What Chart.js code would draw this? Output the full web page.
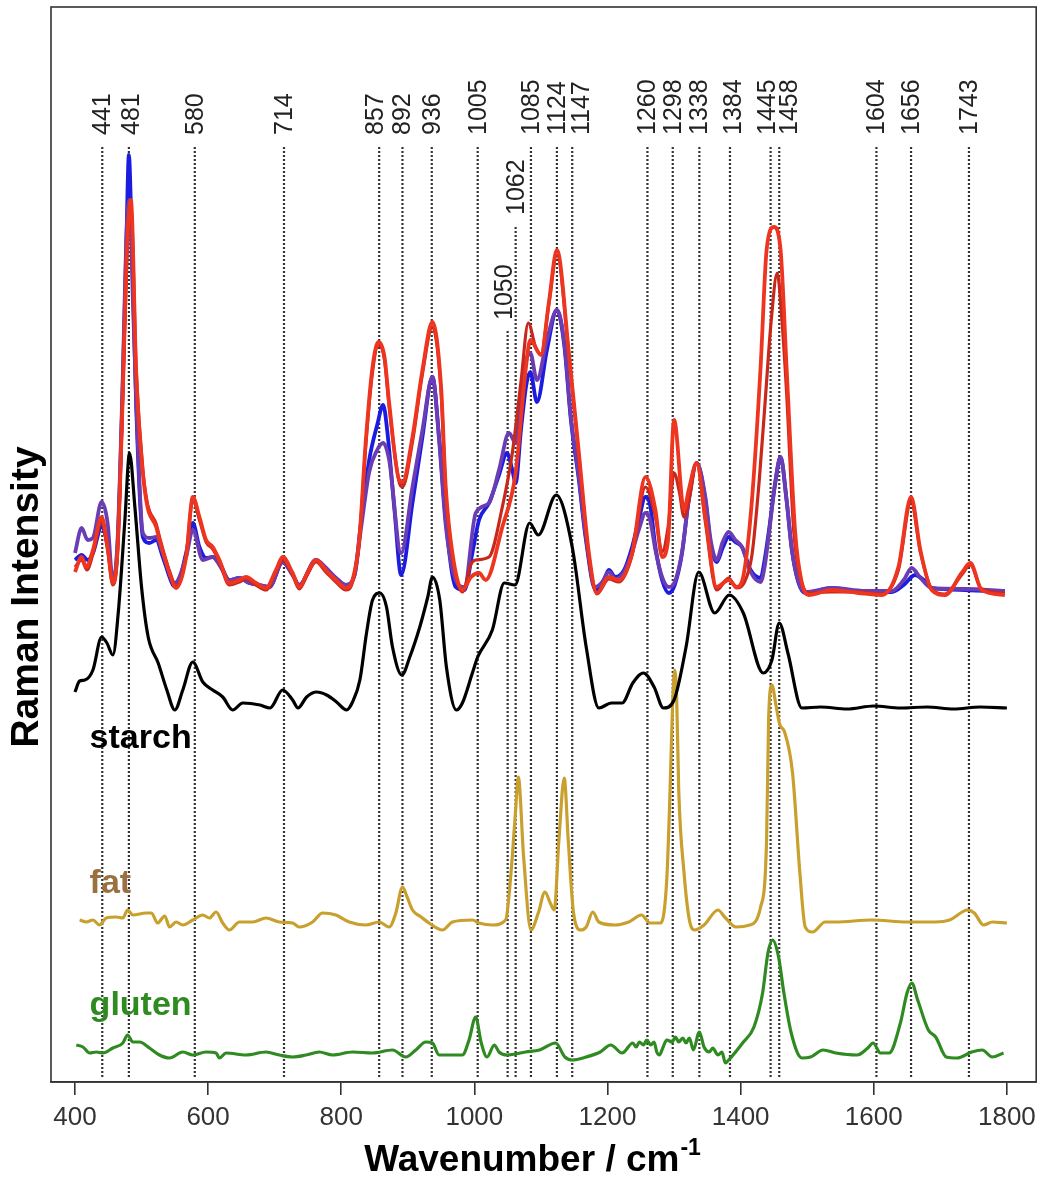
<!DOCTYPE html>
<html>
<head>
<meta charset="utf-8">
<title>Raman spectra</title>
<script src="https://cdn.jsdelivr.net/npm/chart.js@4/dist/chart.umd.min.js"></script>
<style>
  html, body { margin: 0; padding: 0; background: #fff; }
  #wrap { width: 1043px; height: 1177px; position: relative; }
</style>
</head>
<body>
<div id="wrap"><canvas id="raman"></canvas></div>
<script>
// x axis ticks and marked band positions (cm-1)
const xTicks = [400, 600, 800, 1000, 1200, 1400, 1600, 1800];
const peakWn = [441, 481, 580, 714, 857, 892, 936, 1005, 1050, 1062, 1085, 1124, 1147,
                1260, 1298, 1338, 1384, 1445, 1458, 1604, 1656, 1743];

// sample spectra (offset, arbitrary units)
const redWn  = [400,410,417,427,440,449,457,464,472,478,484,492,502,509,522,527,542,552,567,577,587,597,607,617,632,647,657,672,687,702,712,727,737,749,762,777,792,807,817,827,837,847,856,865,872,887,892,907,922,937,950,957,967,982,995,1007,1017,1042,1062,1077,1084,1100,1112,1124,1142,1157,1172,1184,1202,1217,1237,1257,1272,1282,1291,1300,1315,1322,1334,1347,1364,1382,1394,1405,1417,1430,1439,1450,1460,1469,1482,1492,1502,1537,1577,1612,1637,1656,1670,1687,1707,1732,1745,1762,1797];
const redInt = [510,525,515,532,565,535,499,532,692,832,882,709,609,575,555,542,509,494,525,585,565,542,535,522,499,502,505,499,494,512,525,509,495,509,522,512,502,494,502,542,642,715,740,725,679,602,600,645,712,760,695,595,529,492,505,509,502,555,609,712,742,727,780,832,729,629,529,489,505,502,529,605,572,525,542,662,572,592,619,565,495,502,495,509,582,715,832,855,832,715,549,499,487,492,489,487,515,585,532,492,487,509,519,492,487];

const red2Wn  = [400,410,418,427,440,449,457,464,472,478,484,492,502,509,522,527,542,552,567,577,587,597,607,617,632,647,657,672,687,702,712,727,737,749,762,777,792,807,817,827,837,847,856,865,872,887,892,907,922,937,950,957,967,982,995,1002,1022,1042,1057,1070,1081,1092,1100,1112,1124,1142,1157,1172,1184,1202,1217,1237,1257,1272,1282,1291,1300,1308,1315,1322,1334,1347,1364,1382,1394,1405,1417,1428,1437,1446,1455,1462,1469,1480,1492,1502,1537,1577,1612,1637,1656,1670,1687,1707,1732,1745,1762,1797];
const red2Int = [515,522,512,528,560,532,497,530,690,825,875,712,612,578,558,545,511,496,527,582,562,540,533,520,497,500,503,497,492,510,522,507,493,507,520,510,500,492,500,540,638,710,737,722,675,600,595,640,708,755,690,590,525,490,518,522,525,575,629,700,759,735,728,778,827,726,625,525,488,503,500,527,595,565,530,555,609,590,565,580,619,560,492,504,494,499,527,602,682,762,809,762,690,549,499,489,490,490,488,512,580,530,493,488,507,517,493,489];

const blueWn  = [400,410,419,427,440,449,457,464,472,477,481,485,492,502,512,522,532,547,552,567,577,587,597,607,617,632,647,662,677,692,712,727,737,762,777,792,807,820,830,842,854,863,869,880,890,907,922,937,947,957,972,985,997,1007,1022,1037,1049,1057,1062,1070,1078,1084,1094,1109,1124,1135,1145,1157,1167,1182,1192,1202,1212,1225,1237,1247,1257,1264,1272,1282,1292,1301,1312,1322,1334,1347,1355,1364,1373,1382,1392,1402,1415,1430,1436,1442,1452,1460,1469,1477,1487,1497,1537,1587,1627,1645,1662,1675,1687,1737,1797];
const blueInt = [522,527,522,529,555,537,502,537,702,832,927,852,675,545,539,542,525,497,495,529,559,535,524,525,519,502,504,499,497,495,520,507,497,522,514,504,497,507,562,622,657,677,652,572,507,579,645,705,645,562,495,492,529,562,579,607,629,612,599,652,697,710,680,732,772,737,662,602,545,492,497,512,505,512,535,562,585,577,535,502,489,497,529,582,619,582,537,520,534,545,540,535,512,504,522,549,599,625,582,532,499,489,494,490,490,497,507,502,494,492,490];

const purpleWn  = [400,410,419,427,440,449,457,464,472,477,482,487,492,502,512,522,532,550,567,577,592,607,617,632,647,662,677,692,712,727,737,762,777,792,807,820,830,842,854,863,872,890,907,922,937,947,957,972,985,1002,1022,1037,1052,1062,1070,1078,1084,1094,1109,1124,1135,1145,1157,1167,1182,1192,1202,1212,1225,1237,1247,1257,1264,1272,1282,1292,1301,1312,1322,1334,1347,1355,1364,1373,1382,1392,1402,1415,1430,1436,1442,1452,1460,1469,1477,1487,1497,1537,1587,1627,1645,1657,1670,1687,1737,1797];
const purpleInt = [529,554,542,544,580,559,500,542,709,842,882,782,682,549,544,545,529,499,525,552,522,525,517,502,504,499,497,495,520,507,497,522,514,504,497,507,555,610,632,639,622,529,595,652,705,642,557,502,495,569,579,612,649,639,682,722,729,702,742,772,740,665,605,548,495,500,510,503,510,530,552,569,562,532,505,495,500,530,582,619,585,542,522,540,550,542,535,510,500,515,545,600,625,582,532,500,490,494,491,491,502,514,504,494,493,491];

// reference spectra
const starchWn  = [400,407,415,427,440,448,457,465,475,482,490,500,510,525,538,550,562,577,592,607,622,637,652,678,693,712,727,735,748,763,778,793,808,817,828,838,847,858,868,877,891,903,918,930,937,948,958,973,982,997,1005,1027,1045,1061,1083,1096,1123,1147,1168,1187,1206,1222,1238,1254,1270,1284,1300,1318,1337,1361,1383,1404,1434,1447,1458,1471,1492,1520,1560,1600,1640,1680,1720,1760,1800];
const starchInt = [390,401,402,412,445,439,427,469,562,629,575,495,445,419,392,372,392,420,400,392,385,372,379,377,374,392,382,374,385,390,387,380,372,380,402,449,482,489,475,435,407,425,455,485,505,482,415,372,379,409,425,452,499,497,559,547,587,535,435,374,379,379,399,409,395,374,382,435,510,469,487,469,409,422,459,429,374,375,373,376,374,375,373,375,374];

const fatWn  = [407,417,427,437,447,462,472,479,487,507,515,524,535,542,552,562,577,592,602,612,622,632,647,667,687,707,727,737,757,772,792,812,837,857,872,882,892,899,907,920,932,952,967,997,1007,1027,1047,1055,1062,1066,1074,1085,1096,1106,1114,1120,1127,1135,1141,1149,1160,1168,1178,1187,1211,1232,1251,1264,1280,1289,1294,1298,1301,1304,1307,1315,1323,1331,1345,1366,1376,1393,1414,1430,1439,1442,1447,1453,1459,1466,1478,1489,1497,1508,1527,1543,1597,1650,1693,1714,1741,1751,1765,1778,1800];
const fatInt = [162,160,162,157,164,165,164,172,167,169,169,159,166,155,160,157,162,167,164,170,159,152,160,160,164,160,159,155,160,169,167,160,157,160,155,169,195,185,172,165,159,152,160,162,159,157,162,209,272,305,225,152,169,190,179,172,242,304,242,169,152,155,170,160,157,160,167,159,159,202,292,382,412,382,292,209,162,152,157,172,165,155,157,175,242,362,397,377,357,350,309,209,155,150,160,160,162,160,160,162,172,169,157,160,159];

const glutenWn  = [402,412,422,432,442,457,472,479,487,497,512,527,542,562,577,597,612,617,627,657,687,707,727,747,767,787,817,847,877,897,912,927,937,947,982,992,1002,1010,1019,1030,1037,1049,1077,1098,1122,1136,1147,1168,1189,1205,1222,1238,1243,1248,1254,1259,1265,1270,1274,1278,1283,1289,1297,1302,1307,1313,1318,1323,1329,1338,1345,1353,1358,1366,1372,1377,1382,1403,1420,1433,1441,1448,1457,1465,1476,1492,1505,1524,1543,1575,1591,1599,1610,1623,1640,1650,1657,1666,1682,1693,1709,1725,1747,1763,1778,1795];
const glutenInt = [37,35,29,30,29,34,39,47,40,40,34,27,24,30,27,30,29,24,29,27,30,27,25,27,30,27,30,29,32,25,32,40,39,27,27,42,65,40,25,37,30,27,30,32,39,25,22,25,30,37,29,39,35,40,37,42,37,40,30,27,34,42,40,45,40,44,39,44,32,50,35,30,34,27,30,19,22,39,55,89,129,142,125,89,49,24,25,32,29,27,34,39,29,29,59,89,99,82,52,45,25,24,30,32,25,29];

// layout constants (data units on the intensity axis, pixel nudges for crowded labels)
const Y_MAX = 1075;
const LINE_BOTTOM = 5;
const LINE_TOP = 937;
const staggerTop = { 1050: 752, 1062: 857 };
const labelNudge = { 481: 2, 857: -4, 1050: -4, 1147: 9, 1384: 3, 1445: -3, 1458: 10 };
const FONT = '"Liberation Sans", Arial, Helvetica, sans-serif';

function pts(xs, ys) { return xs.map((x, i) => ({ x: x, y: ys[i] })); }
function lineTop(w) { return staggerTop[w] || LINE_TOP; }

function spectrum(label, xs, ys, color, width, order) {
  return {
    label: label,
    data: pts(xs, ys),
    borderColor: color,
    borderWidth: width,
    pointRadius: 0,
    fill: false,
    cubicInterpolationMode: 'monotone',
    order: order
  };
}

const peakSets = peakWn.map(w => ({
  label: 'band ' + w,
  data: [{ x: w, y: LINE_BOTTOM }, { x: w, y: lineTop(w) }],
  borderColor: '#333',
  borderWidth: 2.2,
  borderDash: [2, 2],
  pointRadius: 0,
  fill: false,
  order: 20
}));

const datasets = [
  spectrum('red', redWn, redInt, '#ee3520', 3.8, 1),
  spectrum('red 2', red2Wn, red2Int, '#c8281c', 3.2, 2),
  spectrum('purple', purpleWn, purpleInt, '#6b3db5', 3.8, 3),
  spectrum('blue', blueWn, blueInt, '#1c1ce0', 3.8, 4),
  spectrum('starch', starchWn, starchInt, '#000000', 3.2, 5),
  spectrum('fat', fatWn, fatInt, '#c9a02e', 3.2, 6),
  spectrum('gluten', glutenWn, glutenInt, '#2f8a22', 3.2, 7)
].concat(peakSets);

// frame, band labels, series names and axis titles
const decor = {
  id: 'decor',
  afterDraw(chart) {
    const { ctx, chartArea: a, scales: { x, y } } = chart;
    ctx.save();

    ctx.strokeStyle = '#333';
    ctx.lineWidth = 1.6;
    ctx.strokeRect(a.left, a.top, a.right - a.left, a.bottom - a.top);

    ctx.font = '25px ' + FONT;
    ctx.fillStyle = '#222';
    ctx.textAlign = 'left';
    ctx.textBaseline = 'middle';
    peakWn.forEach(w => {
      const px = x.getPixelForValue(w) + (labelNudge[w] || 0);
      const py = y.getPixelForValue(lineTop(w) + 10);
      ctx.save();
      ctx.translate(px, py);
      ctx.rotate(-Math.PI / 2);
      ctx.fillText(String(w), 0, 1);
      ctx.restore();
    });

    ctx.font = 'bold 34px ' + FONT;
    ctx.textBaseline = 'alphabetic';
    [['starch', '#000000', 334], ['fat', '#9a7040', 189], ['gluten', '#2f8a22', 67]].forEach(s => {
      ctx.fillStyle = s[1];
      ctx.fillText(s[0], x.getPixelForValue(422), y.getPixelForValue(s[2]));
    });

    // x title with superscript
    ctx.fillStyle = '#000';
    ctx.font = 'bold 37px ' + FONT;
    const main = 'Wavenumber / cm';
    const mw = ctx.measureText(main).width;
    ctx.font = 'bold 23px ' + FONT;
    const sw = ctx.measureText('-1').width;
    const x0 = 532 - (mw + sw) / 2;
    ctx.font = 'bold 37px ' + FONT;
    ctx.fillText(main, x0, 1171);
    ctx.font = 'bold 23px ' + FONT;
    ctx.fillText('-1', x0 + mw + 1, 1155);

    // y title
    ctx.font = 'bold 39px ' + FONT;
    ctx.textAlign = 'center';
    ctx.textBaseline = 'middle';
    ctx.translate(27, 597);
    ctx.rotate(-Math.PI / 2);
    ctx.fillText('Raman Intensity', 0, 0);

    ctx.restore();
  }
};

new Chart(document.getElementById('raman'), {
  type: 'line',
  data: { datasets: datasets },
  options: {
    responsive: true,
    maintainAspectRatio: false,
    animation: false,
    events: [],
    layout: { padding: { left: 51, right: 6, top: 7, bottom: 0 } },
    plugins: { legend: { display: false }, tooltip: { enabled: false } },
    scales: {
      x: {
        type: 'linear',
        position: 'bottom',
        min: 364,
        max: 1844,
        afterBuildTicks: (scale) => { scale.ticks = xTicks.map(v => ({ value: v })); },
        afterFit: (scale) => { scale.height = 95; },
        ticks: {
          callback: (v) => String(v),
          font: { family: FONT, size: 26 },
          color: '#333',
          padding: 7,
          maxRotation: 0,
          autoSkip: false
        },
        grid: { drawOnChartArea: false, drawTicks: true, tickLength: 13, color: '#333', lineWidth: 1.6 },
        border: { display: true, color: '#333', width: 1.6 }
      },
      y: {
        display: false,
        min: 0,
        max: Y_MAX
      }
    }
  },
  plugins: [decor]
});
</script>
</body>
</html>
